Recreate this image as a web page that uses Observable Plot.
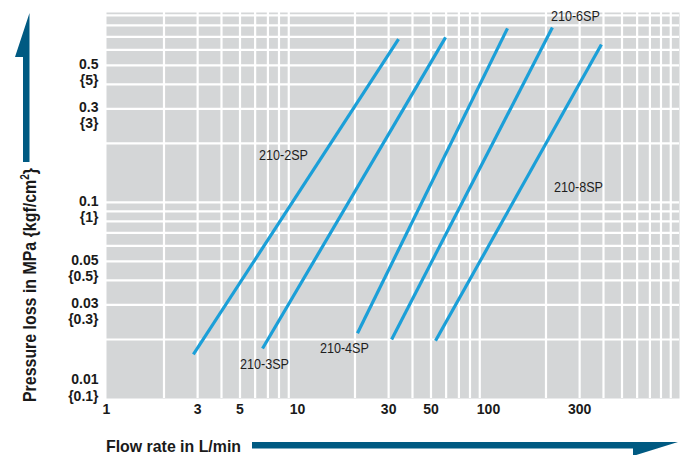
<!DOCTYPE html>
<html>
<head>
<meta charset="utf-8">
<script src="https://cdn.jsdelivr.net/npm/d3@7"></script>
<script src="https://cdn.jsdelivr.net/npm/@observablehq/plot@0.6"></script>
<style>
  html, body { margin: 0; padding: 0; background: #fff; }
  svg { display: block; }
</style>
</head>
<body>
<div id="chart"></div>
<script>
// ---- data ----
const series = ["210-2SP", "210-3SP", "210-4SP", "210-6SP", "210-8SP"];
const flowStart = [2.85, 6.56, 20.6, 31.1, 52.8];
const lossStart = [0.0168, 0.018, 0.0215, 0.020, 0.0197];
const flowEnd = [33.8, 59.6, 125.7, 216, 390];
const lossEnd = [0.68, 0.695, 0.773, 0.78, 0.64];
const labelFlow = [8.45, 6.72, 17.6, 285, 296];
const labelLoss = [0.174, 0.0149, 0.018, 0.889, 0.119];

const xTickValues = [1, 3, 5, 10, 30, 50, 100, 300];
const xTickLabels = ["1", "3", "5", "10", "30", "50", "100", "300"];
const yTickValues = [0.5, 0.3, 0.1, 0.05, 0.03, 0.01];
const yTickLabels = ["0.5", "0.3", "0.1", "0.05", "0.03", "0.01"];
const yTickSubLabels = ["{5}", "{3}", "{1}", "{0.5}", "{0.3}", "{0.1}"];
const xGridValues = [2, 3, 4, 5, 6, 7, 8, 9, 20, 30, 40, 50, 60, 70, 80, 90, 200, 300, 400, 500, 600, 700, 800, 900];
const yGridValues = [0.02, 0.03, 0.04, 0.05, 0.06, 0.07, 0.08, 0.09, 0.1, 0.2, 0.3, 0.4, 0.5, 0.6, 0.7, 0.8, 0.9];

const xTitle = "Flow rate in L/min";
const yTitleMain = "Pressure loss in MPa {kgf/cm";
const yTitleSup = "2";
const yTitleEnd = "}";

// ---- build ----
const rows = series.map((s, i) => ({
  name: s, x1: flowStart[i], y1: lossStart[i], x2: flowEnd[i], y2: lossEnd[i],
  lx: labelFlow[i], ly: labelLoss[i]
}));
const xTicks = xTickValues.map((v, i) => ({v, label: xTickLabels[i]}));
const yTicks = yTickValues.map((v, i) => ({v, label: yTickLabels[i] + "\n" + yTickSubLabels[i]}));
const yMin = 0.01;

const FONT = "'Liberation Sans', Arial, sans-serif";
const LINE = "#1b9fd8";
const ARROW = "#005a82";

const chart = Plot.plot({
  width: 696,
  height: 455,
  marginLeft: 106,
  marginRight: 17,
  marginTop: 12,
  marginBottom: 57,
  style: {fontFamily: FONT, background: "#fff"},
  x: {type: "log", domain: [1, 1000], axis: null},
  y: {type: "log", domain: [0.01, 0.931], axis: null},
  marks: [
    Plot.frame({fill: "#d4d6d7", stroke: null}),
    Plot.ruleX(xGridValues, {x: d => d, stroke: "#fff", strokeWidth: 2.2, strokeOpacity: 1}),
    Plot.ruleY(yGridValues, {y: d => d, stroke: "#fff", strokeWidth: 2.2, strokeOpacity: 1}),
    Plot.link(rows, {x1: "x1", y1: "y1", x2: "x2", y2: "y2", stroke: LINE, strokeWidth: 3.2, strokeLinecap: "butt"}),
    Plot.text(rows, {x: "lx", y: "ly", text: "name", fontSize: 14, fill: "#1e1e1e", className: "narrow"}),
    Plot.text(xTicks, {x: "v", text: "label", frameAnchor: "bottom", dy: 15, fontSize: 14, fontWeight: "bold", fill: "#1a1a1a"}),
    Plot.text(yTicks.filter(d => d.v !== yMin), {y: "v", text: "label", frameAnchor: "left", dx: -8, dy: -8, textAnchor: "end", lineAnchor: "top", lineHeight: 1.15, fontSize: 14, fontWeight: "bold", fill: "#1a1a1a"}),
    Plot.text(yTicks.filter(d => d.v === yMin), {y: "v", text: "label", frameAnchor: "left", dx: -8, dy: 2, textAnchor: "end", lineAnchor: "bottom", lineHeight: 1.15, fontSize: 14, fontWeight: "bold", fill: "#1a1a1a"})
  ]
});

document.getElementById("chart").appendChild(chart);

// condense the series labels slightly (the original uses a condensed face)
d3.select(chart).selectAll("g.narrow text").each(function() {
  const t = this.getAttribute("transform") || "";
  this.setAttribute("transform", t + " scale(0.9,1)");
});

// decorations: axis titles and arrows
const svg = d3.select(chart);
svg.append("path")
  .attr("d", "M23,162 V57 H15 L29.5,13 V162 Z")
  .attr("fill", ARROW);
svg.append("path")
  .attr("d", "M252,442 H678 L633,456 V448.5 H252 Z")
  .attr("fill", ARROW);
const yt = svg.append("text")
  .attr("transform", "translate(36,402) rotate(-90)")
  .attr("font-family", FONT)
  .attr("font-size", 19)
  .attr("font-weight", "bold")
  .attr("fill", "#1a1a1a")
  .attr("text-anchor", "start")
  .attr("textLength", 234)
  .attr("lengthAdjust", "spacingAndGlyphs");
yt.append("tspan").text(yTitleMain);
yt.append("tspan").attr("dy", -7).attr("font-size", 12).text(yTitleSup);
yt.append("tspan").attr("dy", 7).text(yTitleEnd);
svg.append("text")
  .attr("x", 106)
  .attr("y", 452)
  .attr("font-family", FONT)
  .attr("font-size", 17)
  .attr("font-weight", "bold")
  .attr("fill", "#1a1a1a")
  .attr("text-anchor", "start")
  .attr("textLength", 135)
  .attr("lengthAdjust", "spacingAndGlyphs")
  .text(xTitle);
</script>
</body>
</html>
